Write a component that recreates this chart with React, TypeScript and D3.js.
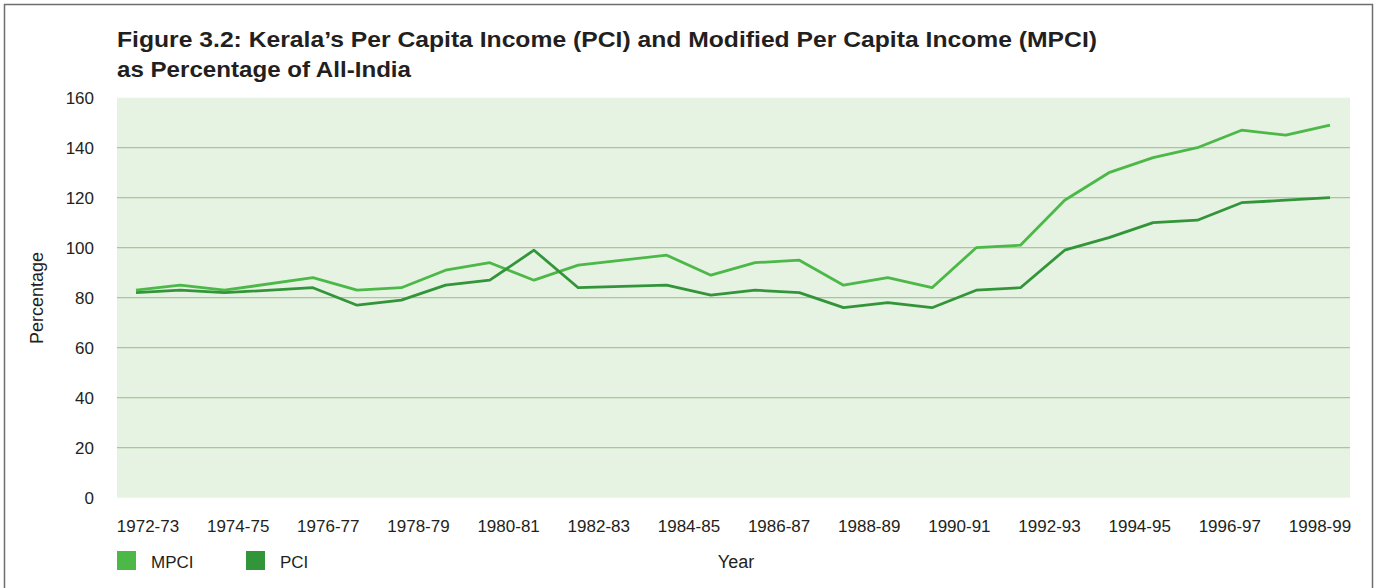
import React from "react";
import * as d3 from "d3";

const categories = [
  "1972-73", "1973-74", "1974-75", "1975-76", "1976-77", "1977-78", "1978-79",
  "1979-80", "1980-81", "1981-82", "1982-83", "1983-84", "1984-85", "1985-86",
  "1986-87", "1987-88", "1988-89", "1989-90", "1990-91", "1991-92", "1992-93",
  "1993-94", "1994-95", "1995-96", "1996-97", "1997-98", "1998-99", "1999-00",
];

const mpciValues: (number | null)[] = [
  83, 85, 83, null, 88, 83, 84, 91, 94, 87, 93, null, 97, 89,
  94, 95, 85, 88, 84, 100, 101, 119, 130, 136, 140, 147, 145, 149,
];

const pciValues: (number | null)[] = [
  82, 83, 82, null, 84, 77, 79, 85, 87, 99, 84, null, 85, 81,
  83, 82, 76, 78, 76, 83, 84, 99, 104, 110, 111, 118, 119, 120,
];

const xTickLabels = [
  "1972-73", "1974-75", "1976-77", "1978-79", "1980-81", "1982-83", "1984-85",
  "1986-87", "1988-89", "1990-91", "1992-93", "1994-95", "1996-97", "1998-99",
];

const yTicks = [0, 20, 40, 60, 80, 100, 120, 140, 160];
const gridValues = [20, 40, 60, 80, 100, 120, 140];

const seriesNames = ["MPCI", "PCI"];
const seriesColors = ["#4cb848", "#339539"];

const W = 1377;
const H = 588;
const plotLeft = 117;
const plotRight = 1350;
const plotTop = 97.7;
const plotBottom = 497.7;
const font = "'Liberation Sans', Arial, sans-serif";
const textColor = "#231f20";

export default function App() {
  const x = d3.scalePoint<string>().domain(categories).range([136, 1330]);
  const xLab = d3.scalePoint<string>().domain(xTickLabels).range([148, 1320]);
  const y = d3.scaleLinear().domain([0, 160]).range([plotBottom, plotTop]);

  const series = [mpciValues, pciValues].map((vals, i) => ({
    name: seriesNames[i],
    color: seriesColors[i],
    points: vals
      .map((v, j) => ({ c: categories[j], v }))
      .filter((d) => d.v !== null) as { c: string; v: number }[],
  }));

  const line = d3
    .line<{ c: string; v: number }>()
    .x((d) => x(d.c) as number)
    .y((d) => y(d.v));

  return (
    <svg
      width={W}
      height={H}
      style={{ position: "absolute", left: 0, top: 0, background: "#fff" }}
    >
      <rect x={4.5} y={4.5} width={1368} height={620} fill="none" stroke="#6d6e70" strokeWidth={1.5} />
      <text x={117} y={47} fontFamily={font} fontWeight="bold" fontSize={22} fill={textColor}
        textLength={980} lengthAdjust="spacingAndGlyphs">
        Figure 3.2: Kerala’s Per Capita Income (PCI) and Modified Per Capita Income (MPCI)
      </text>
      <text x={117} y={77} fontFamily={font} fontWeight="bold" fontSize={22} fill={textColor}
        textLength={294} lengthAdjust="spacingAndGlyphs">
        as Percentage of All-India
      </text>

      <rect x={plotLeft} y={plotTop} width={plotRight - plotLeft} height={plotBottom - plotTop} fill="#e6f2e2" />
      {gridValues.map((g) => (
        <line key={g} x1={plotLeft} x2={plotRight} y1={y(g)} y2={y(g)} stroke="#a6c69c" strokeWidth={1.3} />
      ))}

      {yTicks.map((t) => (
        <text key={t} x={94} y={y(t) + 6} textAnchor="end" fontFamily={font} fontSize={17} fill={textColor}>
          {t}
        </text>
      ))}

      {xTickLabels.map((l) => (
        <text key={l} x={xLab(l)} y={532} textAnchor="middle" fontFamily={font} fontSize={17} fill={textColor}>
          {l}
        </text>
      ))}

      {series.map((s) => (
        <path key={s.name} d={line(s.points) || ""} fill="none" stroke={s.color} strokeWidth={2.8} strokeLinejoin="round" />
      ))}

      <text transform={`translate(43,298) rotate(-90)`} textAnchor="middle" fontFamily={font} fontSize={18} fill={textColor}>
        Percentage
      </text>
      <text x={736} y={568} textAnchor="middle" fontFamily={font} fontSize={18} fill={textColor}>
        Year
      </text>

      {series.map((s, i) => (
        <g key={s.name} transform={`translate(${117 + i * 129},551)`}>
          <rect x={0} y={0} width={19} height={19} fill={s.color} />
          <text x={34} y={17} fontFamily={font} fontSize={17} fill={textColor}>
            {s.name}
          </text>
        </g>
      ))}
    </svg>
  );
}
